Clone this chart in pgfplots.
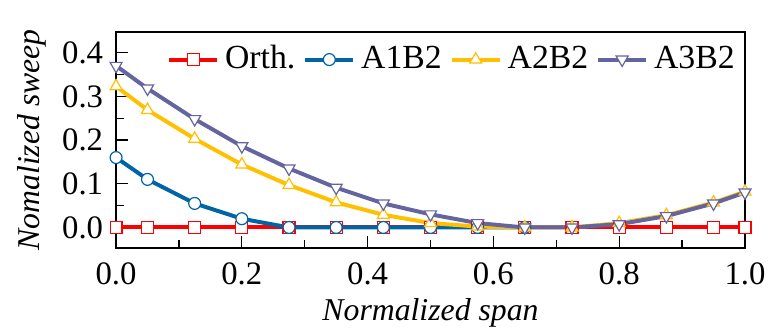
\documentclass[border=0pt]{standalone}
\usepackage{pgfplots}
\pgfplotsset{compat=1.18}
\usepackage{fontspec}
\setmainfont{Liberation Serif}
\definecolor{cOrth}{RGB}{255,0,0}
\definecolor{cA1}{RGB}{0,100,165}
\definecolor{cA2}{RGB}{255,192,0}
\definecolor{cA3}{RGB}{100,100,160}
\begin{document}
\fontsize{16}{18}\selectfont
\begin{tikzpicture}
\begin{axis}[
  name=ax,
  scale only axis,
  width=317pt, height=109pt,
  xmin=0, xmax=1, ymin=-0.047, ymax=0.448,
  xtick={0,0.2,0.4,0.6,0.8,1.0},
  ytick={0,0.1,0.2,0.3,0.4},
  minor xtick={0.1,0.3,0.5,0.7,0.9},
  minor ytick={0.05,0.15,0.25,0.35},
  tick align=inside,
  xtick pos=bottom, ytick pos=left,
  major tick length=6pt, minor tick length=4pt,
  tick style={black, line width=0.6pt},
  axis line style={line width=0.8pt},
  /pgf/number format/assume math mode=true,
  /pgf/number format/fixed, /pgf/number format/fixed zerofill,
  /pgf/number format/precision=1,
  ticklabel style={font=\fontsize{16.5}{18}\selectfont},
  xticklabel style={yshift=-2pt},
  yticklabel style={xshift=-1pt},
  xlabel={\itshape Normalized span},
  ylabel={\itshape Nomalized sweep},
  label style={font=\fontsize{16}{18}\selectfont},
  xlabel style={at={(axis description cs:0.5,0)}, anchor=base, inner sep=0pt, yshift=-36.5pt},
  ylabel style={yshift=-3pt},
  legend columns=4,
  legend style={draw=none, fill=none, at={(1.0,0.975)}, anchor=north east,
    font=\fontsize{17}{19}\selectfont, column sep=1pt,
    /tikz/every even column/.append style={column sep=2pt}},
  legend image code/.code={\draw[#1] (0cm,0cm) -- (0.85cm,0cm); \draw[#1, only marks] plot coordinates {(0.425cm,0cm)};},
  every axis plot/.append style={line width=2pt, mark size=3pt},
]
\addplot[color=cOrth, mark=square*, mark options={fill=white, line width=0.6pt, solid}] coordinates {
(0,0) (0.05,0) (0.125,0) (0.2,0) (0.275,0) (0.35,0) (0.425,0) (0.5,0)
(0.575,0) (0.65,0) (0.725,0) (0.8,0) (0.875,0) (0.95,0) (1.0,0)};
\addlegendentry{Orth.}
\addplot[color=cA1, mark=*, mark options={fill=white, line width=0.6pt, solid}] coordinates {
(0,0.160) (0.05,0.110) (0.125,0.055) (0.2,0.020) (0.275,0.0) (0.35,0) (0.425,0) (0.5,0)
(0.575,0) (0.65,0)};
\addlegendentry{A1B2}
\addplot[color=cA2, mark=triangle*, mark size=3.5pt, mark options={fill=white, line width=0.6pt, solid}] coordinates {
(0,0.323) (0.05,0.269) (0.125,0.203) (0.2,0.144) (0.275,0.097) (0.35,0.0575) (0.425,0.029) (0.5,0.010)
(0.575,0.002) (0.65,0) (0.725,0) (0.8,0.010) (0.875,0.028) (0.95,0.057) (1.0,0.082)};
\addlegendentry{A2B2}
\addplot[color=cA3, mark=triangle*, mark size=3.5pt, mark options={fill=white, line width=0.6pt, solid, rotate=180}] coordinates {
(0,0.370) (0.05,0.318) (0.125,0.248) (0.2,0.186) (0.275,0.135) (0.35,0.091) (0.425,0.055) (0.5,0.030)
(0.575,0.010) (0.65,0.0) (0.725,0.0) (0.8,0.0075) (0.875,0.026) (0.95,0.055) (1.0,0.080)};
\addlegendentry{A3B2}
\end{axis}
\useasboundingbox ([xshift=-58.5pt,yshift=-40.5pt]ax.south west) rectangle ([xshift=12.5pt,yshift=16pt]ax.north east);
\end{tikzpicture}
\end{document}
